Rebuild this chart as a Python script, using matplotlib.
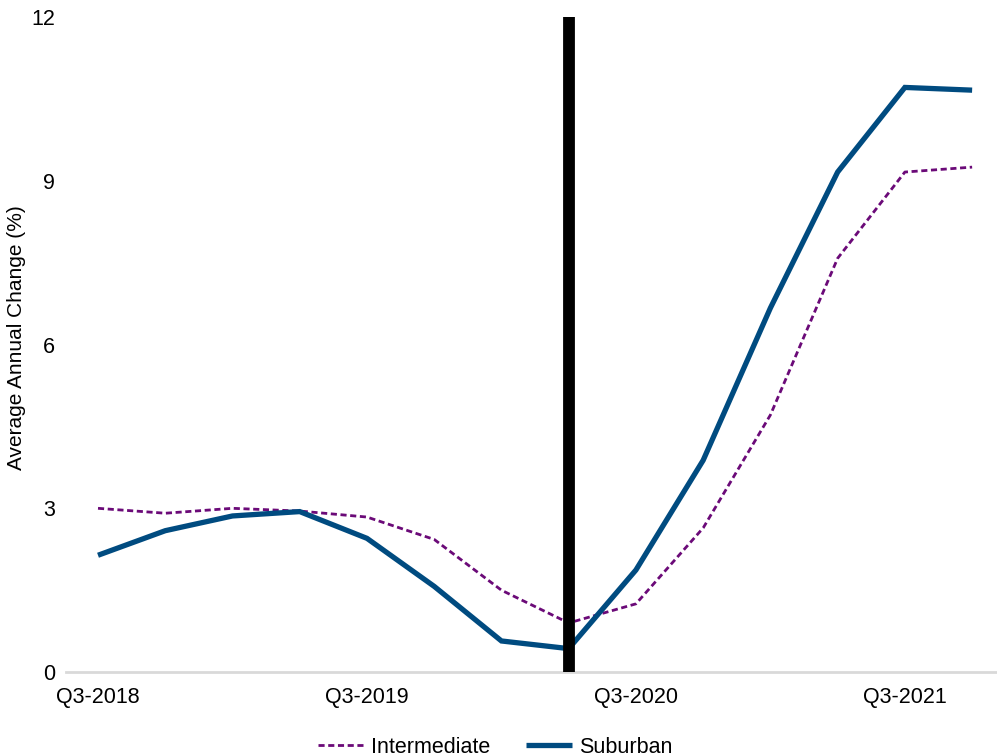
import matplotlib
matplotlib.use("Agg")
import matplotlib.pyplot as plt

plt.rcParams['font.family'] = ['Liberation Sans', 'DejaVu Sans']

quarters = ["Q3-2018", "Q4-2018", "Q1-2019", "Q2-2019", "Q3-2019", "Q4-2019",
            "Q1-2020", "Q2-2020", "Q3-2020", "Q4-2020", "Q1-2021", "Q2-2021",
            "Q3-2021", "Q4-2021"]
intermediate = [3.00, 2.91, 3.00, 2.95, 2.84, 2.43, 1.50, 0.90, 1.25, 2.64,
                4.71, 7.58, 9.16, 9.25]
suburban = [2.14, 2.59, 2.86, 2.94, 2.45, 1.57, 0.57, 0.43, 1.87, 3.88,
            6.67, 9.16, 10.71, 10.66]
shown_ticks = ["Q3-2018", "Q3-2019", "Q3-2020", "Q3-2021"]
event_quarter = "Q2-2020"
yticks = [0, 3, 6, 9, 12]

FS = 15.5

fig = plt.figure(figsize=(9.97, 7.56), dpi=100)
ax = fig.add_axes([0.0662, 0.111, 0.9338, 0.8665])

x = list(range(len(quarters)))
ax.plot(x, intermediate, color="#6b0a78", lw=2.0, ls=(0, (2.2, 1.3)),
        label="Intermediate", zorder=3)
ax.plot(x, suburban, color="#004b80", lw=3.8, label="Suburban", zorder=3,
        solid_capstyle="butt", solid_joinstyle="miter")

ax.axvline(quarters.index(event_quarter), color="black", lw=8.5, zorder=4)

ax.set_xlim(-0.476, 13.37)
ax.set_ylim(0, 12)
ax.set_xticks([quarters.index(q) for q in shown_ticks])
ax.set_xticklabels(shown_ticks)
ax.set_yticks(yticks)
ax.tick_params(axis="both", length=0, labelsize=FS, colors="black")
ax.tick_params(axis="x", pad=11)
ax.tick_params(axis="y", pad=8)

for side in ["top", "right", "left"]:
    ax.spines[side].set_visible(False)
ax.spines["bottom"].set_color("#d9d9d9")
ax.spines["bottom"].set_linewidth(2)

ax.set_ylabel("Average Annual Change (%)", fontsize=15)
ax.yaxis.set_label_coords(-0.0435, 0.511)

leg = ax.legend(loc="upper center", bbox_to_anchor=(0.461, -0.069),
                ncol=2, frameon=False, fontsize=FS, handlelength=2.1,
                columnspacing=1.7, handletextpad=0.35)

fig.savefig("out.png", dpi=100)
